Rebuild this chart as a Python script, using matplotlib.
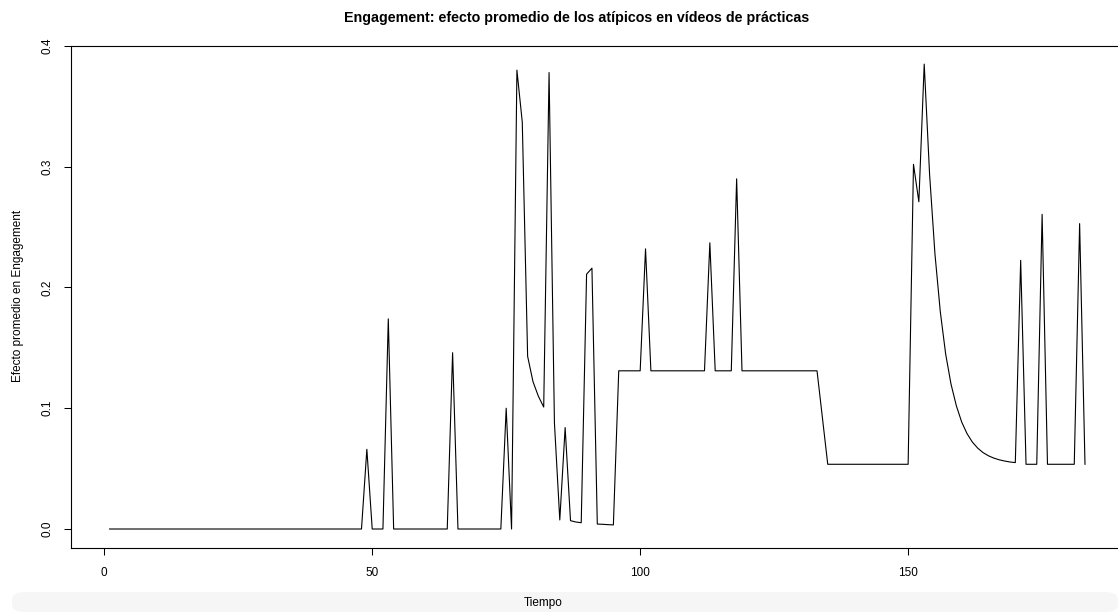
import matplotlib

matplotlib.use("Agg")
import matplotlib.pyplot as plt
from matplotlib.patches import FancyBboxPatch
import numpy as np

plt.rcParams["font.family"] = ["Liberation Sans", "DejaVu Sans"]

title = "Engagement: efecto promedio de los atípicos en vídeos de prácticas"
xlabel = "Tiempo"
ylabel = "Efecto promedio en Engagement"

tiempo = np.arange(1, 184)
efecto = [
    0.0, 0.0, 0.0, 0.0, 0.0, 0.0, 0.0, 0.0, 0.0, 0.0,
    0.0, 0.0, 0.0, 0.0, 0.0, 0.0, 0.0, 0.0, 0.0, 0.0,
    0.0, 0.0, 0.0, 0.0, 0.0, 0.0, 0.0, 0.0, 0.0, 0.0,
    0.0, 0.0, 0.0, 0.0, 0.0, 0.0, 0.0, 0.0, 0.0, 0.0,
    0.0, 0.0, 0.0, 0.0, 0.0, 0.0, 0.0, 0.0, 0.066, 0.0,
    0.0, 0.0, 0.174, 0.0, 0.0, 0.0, 0.0, 0.0, 0.0, 0.0,
    0.0, 0.0, 0.0, 0.0, 0.146, 0.0, 0.0, 0.0, 0.0, 0.0,
    0.0, 0.0, 0.0, 0.0, 0.100, 0.0, 0.380, 0.337, 0.143, 0.122,
    0.110, 0.101, 0.378, 0.088, 0.0075, 0.084, 0.0069, 0.0058, 0.0052, 0.211,
    0.216, 0.0041, 0.0039, 0.0036, 0.0034, 0.131, 0.131, 0.131, 0.131, 0.131,
    0.232, 0.131, 0.131, 0.131, 0.131, 0.131, 0.131, 0.131, 0.131, 0.131,
    0.131, 0.131, 0.237, 0.131, 0.131, 0.131, 0.131, 0.290, 0.131, 0.131,
    0.131, 0.131, 0.131, 0.131, 0.131, 0.131, 0.131, 0.131, 0.131, 0.131,
    0.131, 0.131, 0.131, 0.0925, 0.0536, 0.0536, 0.0536, 0.0536, 0.0536, 0.0536,
    0.0536, 0.0536, 0.0536, 0.0536, 0.0536, 0.0536, 0.0536, 0.0536, 0.0536, 0.0536,
    0.302, 0.271, 0.385, 0.294, 0.228, 0.180, 0.145, 0.120, 0.102, 0.0885,
    0.0789, 0.0719, 0.0669, 0.0632, 0.0606, 0.0587, 0.0573, 0.0563, 0.0555, 0.0550,
    0.2225, 0.0536, 0.0536, 0.0536, 0.2606, 0.0536, 0.0536, 0.0536, 0.0536, 0.0536,
    0.0536, 0.2529, 0.0536,
]

xticks = [0, 50, 100, 150]
yticks = [0.0, 0.1, 0.2, 0.3, 0.4]
ytick_labels = ["0.0", "0.1", "0.2", "0.3", "0.4"]

W, H = 1118, 612
fig = plt.figure(figsize=(W / 100, H / 100), dpi=100)

# light grey strip at the bottom of the screenshot
band = FancyBboxPatch((12 / W, 0), (W - 12) / W, 20 / H,
                      boxstyle="round,pad=0,rounding_size=0.012",
                      transform=fig.transFigure, facecolor="#f6f6f6",
                      edgecolor="none", zorder=0)
fig.patches.append(band)

# plot region (right edge runs past the image, as in the reference)
ax = fig.add_axes([70.6 / W, (H - 547.6) / H, (1124 - 70.6) / W, (547.6 - 45.5) / H])
ax.plot(tiempo, efecto, color="black", linewidth=0.8)

rx = (tiempo.max() - tiempo.min()) * 0.04
ry = (max(efecto) - min(efecto)) * 0.04
ax.set_xlim(tiempo.min() - rx, tiempo.max() + rx)
ax.set_ylim(min(efecto) - ry, max(efecto) + ry)

ax.set_xticks(xticks)
ax.set_xticklabels([str(v) for v in xticks])
ax.set_yticks(yticks)
ax.set_yticklabels(ytick_labels, rotation=90, va="center")
ax.tick_params(axis="both", length=5, width=0.75, labelsize=8.5, color="black")
ax.tick_params(axis="x", pad=9)
ax.tick_params(axis="y", pad=7)
for s in ax.spines.values():
    s.set_linewidth(0.8)
    s.set_color("black")

fig.text(577 / W, 1 - 18 / H, title, ha="center", va="center",
         fontsize=10.3, fontweight="bold")
fig.text(543 / W, 1 - 603 / H, xlabel, ha="center", va="center", fontsize=8.5)
fig.text(18 / W, 1 - 296 / H, ylabel, ha="center", va="center",
         rotation=90, fontsize=8.5)

fig.savefig("out.png", dpi=100)
